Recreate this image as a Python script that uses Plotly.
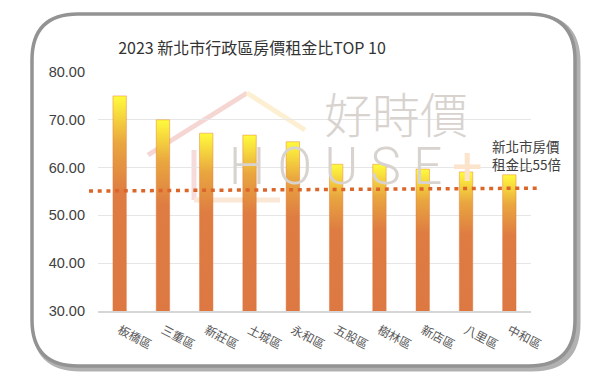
import plotly.graph_objects as go

# ---------------- data ----------------
districts = ["板橋區", "三重區", "新莊區", "土城區", "永和區",
             "五股區", "樹林區", "新店區", "八里區", "中和區"]
ratios = [75.0, 70.0, 67.2, 66.8, 65.4, 60.7, 60.7, 59.7, 59.1, 58.5]
city_line = [55.1, 55.7]          # 新北市房價租金比 dotted reference line (left end, right end)
y_ticks = [30, 40, 50, 60, 70, 80]
y_tick_labels = [f"{v:.2f}" for v in y_ticks]
title_text = "2023 新北市行政區房價租金比TOP 10"
note_text = "新北市房價<br>租金比55倍"

# ---------------- layout geometry (page pixels) ----------------
OFF = 8                      # default body margin of the html page
W, H = 600 - OFF, 381 - OFF
L, R, T, B = 98, 531, 72, 311   # plot area in page pixels
PW, PH = R - L, B - T
BASE = y_ticks[0]
HALF = 0.155


def fx(x):
    return (x - L) / PW


def fy(y):
    return (B - y) / PH


def rrect(x0, y0, x1, y1, r):
    p = lambda x, y: f"{fx(x):.5f},{fy(y):.5f}"
    return " ".join([
        f"M{p(x0 + r, y0)}", f"L{p(x1 - r, y0)}", f"Q{p(x1, y0)} {p(x1, y0 + r)}",
        f"L{p(x1, y1 - r)}", f"Q{p(x1, y1)} {p(x1 - r, y1)}",
        f"L{p(x0 + r, y1)}", f"Q{p(x0, y1)} {p(x0, y1 - r)}",
        f"L{p(x0, y0 + r)}", f"Q{p(x0, y0)} {p(x0 + r, y0)}Z"])


fig = go.Figure()

gradient = [[0.0, "#DD7843"], [0.55, "#DE7C42"], [0.78, "#E9A63F"], [1.0, "#FFFB3C"]]

for i, v in enumerate(ratios):
    fig.add_trace(go.Scatter(
        x=[i - HALF, i + HALF, i + HALF, i - HALF, i - HALF],
        y=[BASE, BASE, v, v, BASE],
        mode="lines",
        fill="toself",
        fillgradient=dict(type="vertical", colorscale=gradient),
        line=dict(width=0.6, color="rgba(225,110,45,0.7)"),
        showlegend=False,
        hoverinfo="skip",
    ))

shapes = []
# card shadow + card
shapes.append(dict(type="path", xref="paper", yref="paper", layer="below",
                   path=rrect(34.5, 16.5, 578, 369, 46),
                   fillcolor="rgba(0,0,0,0)", line=dict(color="rgba(100,100,100,0.5)", width=5)))
shapes.append(dict(type="path", xref="paper", yref="paper", layer="below",
                   path=rrect(32, 14, 575, 366, 46),
                   fillcolor="white", line=dict(color="#939393", width=3.5)))
# watermark house outline
wm = [((148, 155), (247, 93), "#F6D6D2"),
      ((247, 93), (305, 130), "#FDEFD2"),
      ((194, 150), (194, 200), "#F7DADA"),
      ((194, 200), (280, 200), "#FBE7D6")]
for (a, b, c) in wm:
    shapes.append(dict(type="line", xref="paper", yref="paper", layer="below",
                       x0=fx(a[0]), y0=fy(a[1]), x1=fx(b[0]), y1=fy(b[1]),
                       line=dict(color=c, width=5)))
# dotted city reference line
shapes.append(dict(type="line", xref="paper", yref="y",
                   x0=fx(89), x1=fx(537), y0=city_line[0], y1=city_line[1],
                   line=dict(color="#DC652A", width=3.5, dash="4px,4.7px")))

annotations = [
    dict(text="好時價", xref="paper", yref="paper", x=fx(396), y=fy(112),
         xanchor="center", yanchor="middle", showarrow=False,
         font=dict(family="Noto Sans CJK TC", size=48, color="#D8D3CF", weight=300)),
    dict(text="H O U S E", xref="paper", yref="paper", x=fx(227), y=fy(166),
         xanchor="left", yanchor="middle", showarrow=False,
         font=dict(family="Roboto", size=51, color="#D8D3CF", weight=300)),
    dict(text="+", xref="paper", yref="paper", x=fx(467), y=fy(166),
         xanchor="center", yanchor="middle", showarrow=False,
         font=dict(family="Roboto", size=54, color="#FBE3CC")),
    dict(text=note_text, xref="paper", yref="paper", x=fx(490), y=fy(155),
         xanchor="left", yanchor="middle", align="left", showarrow=False,
         font=dict(family="Noto Sans CJK TC", size=13.5, color="#404040")),
]

fig.update_layout(
    width=W, height=H,
    margin=dict(l=L - OFF, r=600 - R, t=T - OFF, b=381 - B),
    paper_bgcolor="white",
    plot_bgcolor="rgba(0,0,0,0)",
    title=dict(text=title_text, x=(252 - OFF) / W, xanchor="center",
               y=1 - (48 - OFF) / H, yanchor="middle",
               font=dict(family="Noto Sans CJK TC", size=16, color="#333333")),
    shapes=shapes,
    annotations=annotations,
    xaxis=dict(range=[-0.5, len(districts) - 0.5], tickvals=list(range(len(districts))),
               ticktext=districts, tickangle=28, showgrid=False, zeroline=False,
               showline=True, linecolor="#D6D6D6", linewidth=1.5,
               tickfont=dict(family="Noto Sans CJK TC", size=12, color="#595959"),
               ticklabelstandoff=6, fixedrange=True),
    yaxis=dict(range=[y_ticks[0], y_ticks[-1]], tickvals=y_ticks, ticktext=y_tick_labels,
               showgrid=True, gridcolor="#E6E6E6", gridwidth=1, zeroline=False,
               showline=False,
               tickfont=dict(family="Liberation Sans", size=14.5, color="#404040"),
               ticklabelstandoff=12, fixedrange=True),
)

fig.write_html("out.html")
